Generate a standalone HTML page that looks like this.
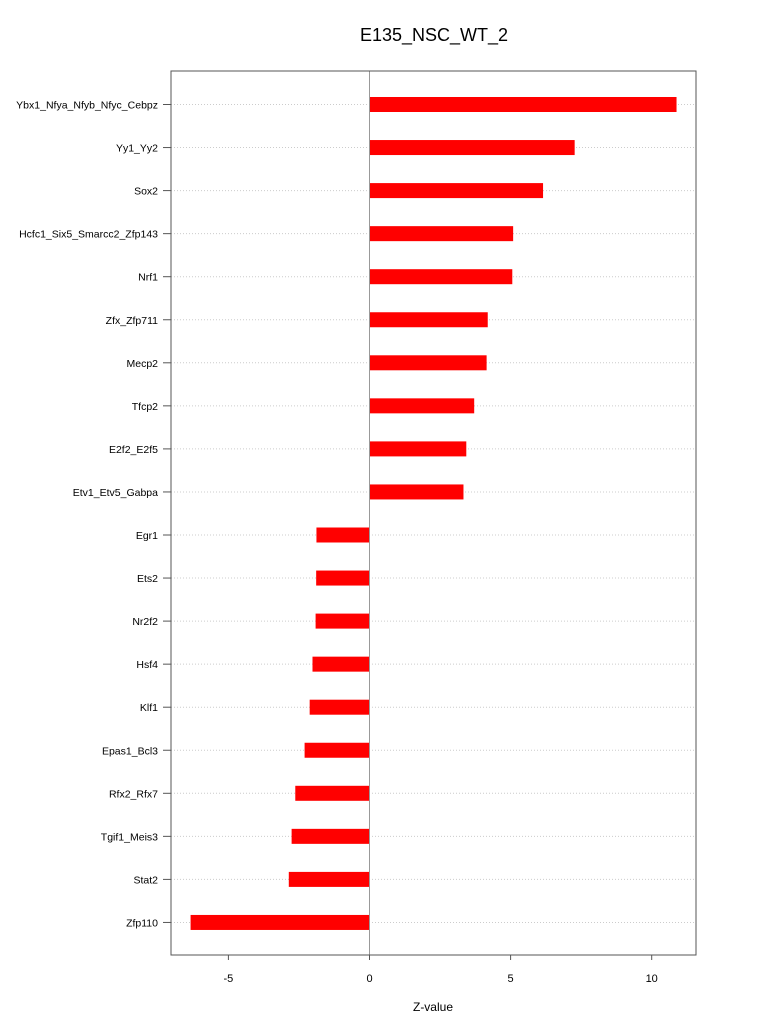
<!DOCTYPE html>
<html><head><meta charset="utf-8"><style>
body{margin:0;background:#fff;}
svg{display:block;font-family:"Liberation Sans",sans-serif;}
</style></head><body>
<svg id="chart" width="768" height="1028" viewBox="0 0 768 1028">
<text x="434" y="41" font-size="18" text-anchor="middle">E135_NSC_WT_2</text>
<text x="433" y="1011" font-size="12" text-anchor="middle">Z-value</text>
<g id="plot"></g>
</svg>
<script>
const categories=["Ybx1_Nfya_Nfyb_Nfyc_Cebpz","Yy1_Yy2","Sox2","Hcfc1_Six5_Smarcc2_Zfp143","Nrf1","Zfx_Zfp711","Mecp2","Tfcp2","E2f2_E2f5","Etv1_Etv5_Gabpa","Egr1","Ets2","Nr2f2","Hsf4","Klf1","Epas1_Bcl3","Rfx2_Rfx7","Tgif1_Meis3","Stat2","Zfp110"];
const values=[10.88,7.27,6.15,5.09,5.06,4.19,4.15,3.71,3.43,3.33,-1.88,-1.89,-1.91,-2.02,-2.12,-2.30,-2.63,-2.76,-2.86,-6.34];
const xTicks=[-5,0,5,10];
const NS="http://www.w3.org/2000/svg";
const g=document.getElementById('plot');
const L=171,R=696,T=71,B=955;
const x=v=>369.5+v*28.22;
const y=i=>104.5+i*43.05;
function mk(t,a){const e=document.createElementNS(NS,t);for(const k in a)e.setAttribute(k,a[k]);g.appendChild(e);return e;}
categories.forEach((c,i)=>{
  const gl=mk('line',{x1:L,x2:R,y1:y(i),y2:y(i),stroke:'#ccc','stroke-dasharray':'1,2'});
  
  
  const tk=mk('line',{x1:L-8,x2:L,y1:y(i),y2:y(i),stroke:'#555'});
  
  
  const tx=mk('text',{x:L-13,y:y(i)+4,'font-size':10.5,'text-anchor':'end'});
  tx.textContent=c;
  
  
});
values.forEach((v,i)=>{
  const x0=Math.min(x(0),x(v)),w=Math.abs(x(v)-x(0));
  const b=mk('rect',{x:x0,y:y(i)-7.5,width:w,height:15,fill:'#ff0000'});
  
  
});
const zl=mk('line',{x1:x(0),x2:x(0),y1:T,y2:B,stroke:'#999'});


const box=mk('rect',{x:L,y:T,width:R-L,height:B-T,fill:'none',stroke:'#555'});


xTicks.forEach(t=>{
  const tk=mk('line',{x1:x(t),x2:x(t),y1:B,y2:B+5,stroke:'#555'});
  
  
  const tx=mk('text',{x:x(t),y:B+27,'font-size':11,'text-anchor':'middle'});
  tx.textContent=t;
  
  
});
</script>
</body></html>
